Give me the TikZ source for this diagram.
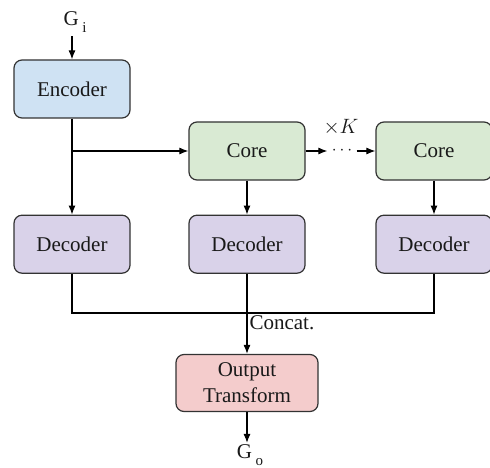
\documentclass[tikz,border=0pt]{standalone}
\usepackage{fontspec}
\setmainfont{Liberation Serif}
\usepackage{tikz}
\usetikzlibrary{shapes,arrows.meta,positioning}

\definecolor{encfill}{HTML}{CFE2F3}
\definecolor{corefill}{HTML}{D9EAD3}
\definecolor{decfill}{HTML}{D9D2E9}
\definecolor{outfill}{HTML}{F4CCCC}
\definecolor{edge}{HTML}{333333}

\newcommand{\lowsub}[1]{\,\raisebox{-7pt}{\fontsize{15}{15}\selectfont #1}}

\begin{document}
\begin{tikzpicture}[x=1pt, y=-1pt, node distance=34pt,
    >={Latex[length=9pt,width=7pt]}, line width=1.1pt,
    every node/.style={font=\fontsize{21}{26}\selectfont, text=black!90},
    block/.style={draw=edge, rounded corners=8pt, minimum width=116pt, minimum height=58pt, align=center, line width=1.2pt}]
    \useasboundingbox (0,0) rectangle (490,468);
    \node (gi) at (75,22) {G\lowsub{i}};
    \node [block, fill=encfill] (encoder) at (72,89) {Encoder};
    \node [block, fill=corefill] (core1) at (247,151) {Core};
    \node [block, fill=corefill] (core2) at (434,151) {Core};
    \node [block, fill=decfill, below=of core1] (dec2) {Decoder};
    \node [block, fill=decfill, below=of core2] (dec3) {Decoder};
    \node [block, fill=decfill] (dec1) at (encoder |- dec2) {Decoder};
    \node [inner sep=4pt, font=\fontsize{17}{17}\selectfont] (dots) at (342,151) {$\cdots$};
    \node at (341,127) {$\times K$};
    \node [block, fill=outfill, minimum width=142pt, minimum height=57pt] (out) at (247,383) {Output\\Transform};
    \node [inner sep=1pt] (go) at (250,455) {G\lowsub{o}};
    \coordinate (split) at (encoder |- core1);
    \coordinate (cat) at (247,313);
    \draw [->] (gi.south -| encoder) -- (encoder);
    \draw [->] (encoder) -- (dec1);
    \draw [->] (split) -- (core1);
    \draw [->] (core1) -- (dots);
    \draw [->] (dots) -- (core2);
    \draw [->] (core1) -- (dec2);
    \draw [->] (core2) -- (dec3);
    \draw (dec1.south) -- (dec1.south |- cat) -- (dec3.south |- cat) -- (dec3.south);
    \draw [->] (dec2) -- (out);
    \node [anchor=north west, inner sep=2pt] at (cat) {Concat.};
    \draw [->] (out) -- (out |- go.north);
\end{tikzpicture}
\end{document}
